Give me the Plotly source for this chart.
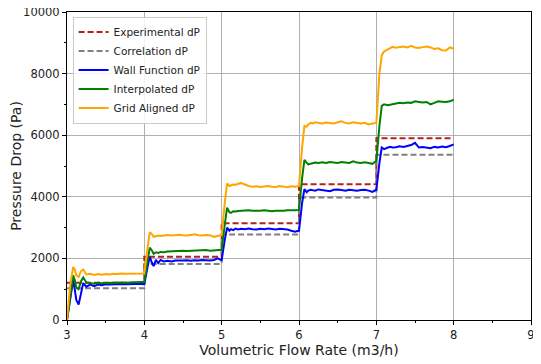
import plotly.graph_objects as go

# Flow rate sample positions (m3/h)
flow_rate = [
    3.00, 3.04, 3.08, 3.10, 3.12, 3.15, 3.18, 3.21, 3.25, 3.30, 3.35, 3.40, 3.45, 3.50, 3.55, 3.60, 3.65, 3.70, 3.75, 3.80, 3.85, 3.90, 3.95, 3.99,
    4.00, 4.04, 4.07, 4.10, 4.12, 4.15, 4.18, 4.21, 4.25, 4.30, 4.35, 4.40, 4.45, 4.50, 4.55, 4.60, 4.65, 4.70, 4.75, 4.80, 4.85, 4.90, 4.95, 4.99,
    5.00, 5.04, 5.07, 5.10, 5.12, 5.15, 5.18, 5.21, 5.25, 5.30, 5.35, 5.40, 5.45, 5.50, 5.55, 5.60, 5.65, 5.70, 5.75, 5.80, 5.85, 5.90, 5.95, 5.99,
    6.00, 6.04, 6.07, 6.10, 6.12, 6.15, 6.18, 6.21, 6.25, 6.30, 6.35, 6.40, 6.45, 6.50, 6.55, 6.60, 6.65, 6.70, 6.75, 6.80, 6.85, 6.90, 6.95, 6.99,
    7.00, 7.04, 7.07, 7.10, 7.12, 7.15, 7.18, 7.21, 7.25, 7.30, 7.35, 7.40, 7.45, 7.50, 7.55, 7.60, 7.65, 7.70, 7.75, 7.80, 7.85, 7.90, 7.95, 7.99,
    8.00,
]

wall_function_dp = [
    0, 700, 1300, 1000, 650, 500, 900, 1200, 1080, 1150, 1100, 1150, 1130, 1160, 1150, 1160, 1150, 1170, 1160, 1170, 1160, 1170, 1170, 1160,
    1160, 1700, 2050, 1850, 1750, 1950, 1850, 1950, 1900, 1920, 1900, 1930, 1920, 1930, 1940, 1920, 1940, 1930, 1950, 1940, 1930, 1950, 2000, 1950,
    1950, 2600, 3000, 2900, 2950, 2920, 2970, 2940, 2960, 2950, 2970, 2950, 2940, 2960, 2950, 2970, 2950, 2940, 2960, 2950, 2940, 2900, 2870, 2900,
    2900, 3800, 4250, 4150, 4200, 4230, 4220, 4200, 4240, 4220, 4210, 4180, 4230, 4240, 4220, 4200, 4230, 4220, 4200, 4220, 4230, 4200, 4160, 4220,
    4220, 5100, 5600, 5550, 5580, 5600, 5620, 5600, 5610, 5640, 5620, 5650, 5680, 5750, 5600, 5620, 5600, 5580, 5620, 5600, 5630, 5610, 5650, 5680,
    5700,
]

interpolated_dp = [
    0, 800, 1450, 1300, 1050, 1000, 1250, 1380, 1220, 1200, 1180, 1210, 1190, 1200, 1210, 1200, 1210, 1220, 1210, 1220, 1230, 1220, 1230, 1230,
    1230, 1900, 2350, 2250, 2150, 2200, 2180, 2210, 2200, 2220, 2230, 2220, 2240, 2250, 2240, 2250, 2260, 2250, 2260, 2270, 2250, 2260, 2270, 2280,
    2280, 3100, 3650, 3500, 3480, 3530, 3520, 3540, 3550, 3540, 3560, 3550, 3540, 3550, 3560, 3540, 3530, 3550, 3540, 3550, 3560, 3550, 3560, 3570,
    3570, 4600, 5200, 5100, 5050, 5070, 5100, 5110, 5100, 5120, 5100, 5130, 5110, 5100, 5130, 5120, 5100, 5150, 5110, 5100, 5120, 5100, 5070, 5150,
    5150, 6300, 6950, 7000, 6980, 6970, 6990, 7000, 7020, 7050, 7040, 7060, 7050, 7100, 7080, 7060, 7080, 7000, 7050, 7100, 7090, 7080, 7100, 7130,
    7150,
]

grid_aligned_dp = [
    0, 1100, 1720, 1650, 1450, 1400, 1580, 1640, 1480, 1500, 1460, 1490, 1470, 1490, 1480, 1500, 1490, 1510, 1500, 1500, 1510, 1500, 1500, 1510,
    1510, 2300, 2850, 2780, 2700, 2720, 2740, 2730, 2750, 2760, 2740, 2750, 2770, 2750, 2740, 2760, 2780, 2750, 2740, 2760, 2750, 2700, 2740, 2760,
    2760, 3800, 4430, 4350, 4380, 4400, 4390, 4420, 4450, 4400, 4350, 4330, 4340, 4320, 4330, 4350, 4330, 4320, 4350, 4330, 4310, 4340, 4330, 4350,
    4350, 5600, 6300, 6280, 6350, 6400, 6380, 6420, 6400, 6380, 6410, 6400, 6380, 6420, 6450, 6400, 6380, 6420, 6400, 6380, 6400, 6350, 6380, 6400,
    6400, 8000, 8600, 8720, 8750, 8780, 8850, 8870, 8840, 8860, 8880, 8850, 8900, 8850, 8830, 8860, 8880, 8850, 8800, 8820, 8760, 8750, 8850, 8820,
    8780,
]

# Step data (experimental and correlation)
step_flow = [3, 4, 5, 6, 7, 8]
experimental_dp = [1210, 2055, 3140, 4405, 5900, 5900]
correlation_dp = [1030, 1820, 2780, 3975, 5365, 5365]

x_ticks = [3, 4, 5, 6, 7, 8, 9]
y_ticks = [0, 2000, 4000, 6000, 8000, 10000]

fig = go.Figure()
fig.add_trace(go.Scatter(x=step_flow, y=experimental_dp, mode="lines", name="Experimental dP",
                         line=dict(color="#b22222", width=2, dash="6px,3px", shape="hv")))
fig.add_trace(go.Scatter(x=step_flow, y=correlation_dp, mode="lines", name="Correlation dP",
                         line=dict(color="#808080", width=2, dash="6px,3px", shape="hv")))
fig.add_trace(go.Scatter(x=flow_rate, y=wall_function_dp, mode="lines", name="Wall Function dP",
                         line=dict(color="#0000ff", width=2)))
fig.add_trace(go.Scatter(x=flow_rate, y=interpolated_dp, mode="lines", name="Interpolated dP",
                         line=dict(color="#008000", width=2)))
fig.add_trace(go.Scatter(x=flow_rate, y=grid_aligned_dp, mode="lines", name="Grid Aligned dP",
                         line=dict(color="#ffa500", width=2)))

axis_common = dict(
    showline=True, linecolor="black", linewidth=1, mirror=True,
    showgrid=True, gridcolor="#b0b0b0", gridwidth=1,
    ticks="outside", ticklen=4, tickcolor="black", zeroline=False,
    automargin=False, ticklabeloverflow="allow",
    tickfont=dict(family="DejaVu Sans", size=11.5, color="#222"),
)

fig.update_xaxes(range=[3, 9], tickvals=x_ticks, ticktext=[str(v) for v in x_ticks],
                 title=dict(text="Volumetric Flow Rate (m3/h)", font=dict(family="DejaVu Sans", size=14, color="#222"), standoff=0),
                 minor=dict(ticks="outside", dtick=0.5, ticklen=2, tickcolor="black", showgrid=False),
                 **axis_common)
fig.update_yaxes(range=[0, 10000], tickvals=y_ticks, ticktext=[str(v) for v in y_ticks],
                 title=dict(text="Pressure Drop (Pa)", font=dict(family="DejaVu Sans", size=14, color="#222"), standoff=6),
                 minor=dict(ticks="outside", dtick=1000, ticklen=2, tickcolor="black", showgrid=False),
                 **axis_common)

# The page body adds an 8px offset; the figure size and margins compensate for it.
fig.update_layout(
    width=533, height=356,
    margin=dict(l=59, r=10, t=4, b=44),
    plot_bgcolor="white", paper_bgcolor="white",
    font=dict(family="DejaVu Sans", color="#222"),
    legend=dict(x=0.012, y=0.985, xanchor="left", yanchor="top",
                bgcolor="rgba(255,255,255,0.85)", bordercolor="#cccccc", borderwidth=1,
                font=dict(family="DejaVu Sans", size=10.5, color="#222"),
                tracegroupgap=0, itemwidth=30),
    showlegend=True,
)

fig.write_html("out.html")
